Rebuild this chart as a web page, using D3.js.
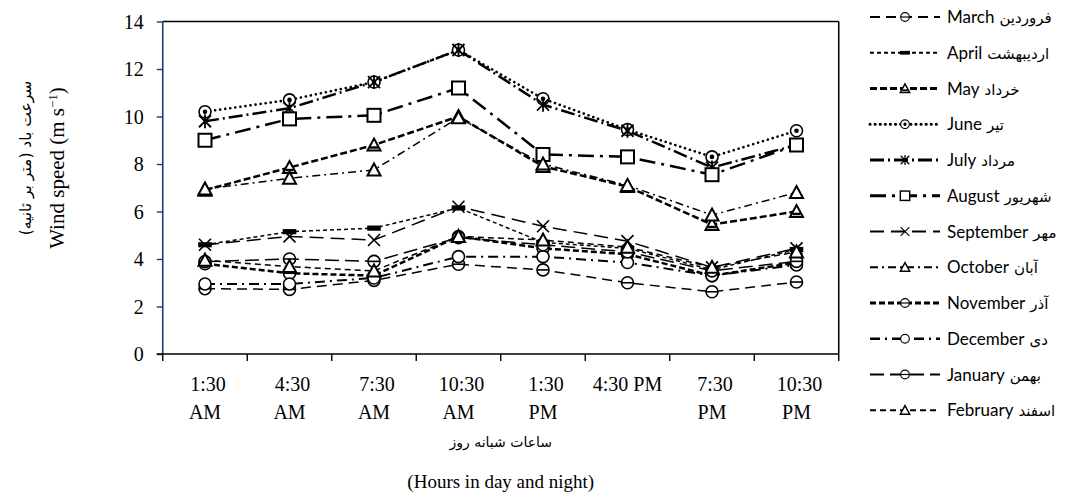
<!DOCTYPE html>
<html><head><meta charset="utf-8">
<script src="https://cdn.jsdelivr.net/npm/d3@7"></script>
<style>body{margin:0;background:#fff} svg{display:block}</style>
</head><body>
<svg id="c" width="1088" height="496"></svg>
<script>
// ---------- data ----------
const hours = ["1:30 AM","4:30 AM","7:30 AM","10:30 AM","1:30 PM","4:30 PM","7:30 PM","10:30 PM"];
const hourLines = [["1:30","AM"],["4:30","AM"],["7:30","AM"],["10:30","AM"],["1:30","PM"],["4:30 PM"],["7:30","PM"],["10:30","PM"]];
const yTicks = [0,2,4,6,8,10,12,14];
const monthNames = ["March","April","May","June","July","August","September","October","November","December","January","February"];
const persianNames = ["فروردین","اردیبهشت","خرداد","تیر","مرداد","شهریور","مهر","آبان","آذر","دی","بهمن","اسفند"];

const march     = [2.75, 2.72, 3.1, 3.78, 3.54, 3.0, 2.62, 3.03];
const april     = [4.6, 5.15, 5.3, 6.15, 4.7, 4.45, 3.55, 4.4];
const may       = [6.9, 7.85, 8.8, 10.0, 7.9, 7.05, 5.45, 6.0];
const june      = [10.2, 10.7, 11.45, 12.8, 10.75, 9.45, 8.3, 9.4];
const july      = [9.8, 10.35, 11.45, 12.8, 10.5, 9.4, 7.85, 8.8];
const august    = [9.0, 9.9, 10.05, 11.2, 8.4, 8.3, 7.55, 8.8];
const september = [4.6, 4.95, 4.8, 6.2, 5.38, 4.75, 3.65, 4.45];
const october   = [6.95, 7.4, 7.75, 9.95, 8.0, 7.1, 5.85, 6.8];
const november  = [3.8, 3.4, 3.3, 4.95, 4.45, 4.2, 3.3, 3.85];
const december  = [2.95, 2.95, 3.2, 4.1, 4.1, 3.85, 3.3, 3.75];
const january   = [3.89, 4.0, 3.9, 4.9, 4.6, 4.3, 3.5, 3.9];
const february  = [3.95, 3.68, 3.5, 4.95, 4.8, 4.5, 3.65, 4.3];
const allSeries = [march, april, may, june, july, august, september, october, november, december, january, february];

// ---------- styles ----------
const styles = [
  {dash:"10,6", w:1.5, m:"circleBar"},
  {dash:"4,3", w:1.5, m:"bar"},
  {dash:"7,3", w:2.5, m:"triFill"},
  {dash:"0.1,5", w:2.6, m:"circleDot", cap:"round"},
  {dash:"14,4,2,4", w:2.5, m:"asterisk"},
  {dash:"16,6,3,6", w:2.5, m:"square"},
  {dash:"14,7", w:1.5, m:"x"},
  {dash:"8,4,2,4", w:1.5, m:"tri"},
  {dash:"6,3", w:2.5, m:"circleBar"},
  {dash:"10,5,2,5", w:2, m:"circle"},
  {dash:"14,6", w:1.5, m:"circleBar"},
  {dash:"6,4", w:1.5, m:"tri"}
];

const svg = d3.select("#c");
const L = 162.75, R = 838.75, T = 21.5, B = 354;
const x = d3.scaleBand().domain(hours).range([L, R]).padding(0);
const y = d3.scaleLinear().domain([0, 14]).range([B, T]);
const cx = h => x(h) + x.bandwidth() / 2;

function marker(g, type, px, py, sc) {
  sc = sc || 1;
  const s = g.append("g").attr("transform", `translate(${px},${py}) scale(${sc})`)
    .attr("fill", "none").attr("stroke", "#000").attr("stroke-width", 1.6);
  const r = 6;
  if (type === "circleBar") {
    s.append("circle").attr("r", r).attr("fill", "#fff");
    s.append("line").attr("x1", -r).attr("x2", r);
  } else if (type === "circle") {
    s.append("circle").attr("r", r).attr("fill", "#fff");
  } else if (type === "circleDot") {
    s.append("circle").attr("r", r).attr("fill", "#fff");
    s.append("circle").attr("r", 1.5).attr("fill", "#000");
  } else if (type === "bar") {
    s.append("rect").attr("x", -6).attr("y", -1.8).attr("width", 12).attr("height", 3.6).attr("fill", "#000");
  } else if (type === "tri" || type === "triFill") {
    s.append("path").attr("d", "M0,-6.5L6.5,5.5L-6.5,5.5Z").attr("fill", "#fff").attr("stroke-width", 2);
    if (type === "triFill") s.append("line").attr("x1", -4).attr("x2", 4).attr("y1", 2.5).attr("y2", 2.5).attr("stroke-width", 2.5);
  } else if (type === "square") {
    s.append("rect").attr("x", -6.5).attr("y", -6.5).attr("width", 13).attr("height", 13).attr("fill", "#fff").attr("stroke-width", 2);
  } else if (type === "x") {
    s.append("path").attr("d", "M-6,-6L6,6M-6,6L6,-6");
  } else if (type === "asterisk") {
    s.append("path").attr("d", "M-6,-6L6,6M-6,6L6,-6M0,-7L0,7").attr("stroke-width", 1.8);
  }
}

// ---------- frame & axes ----------
svg.append("line").attr("x1", L).attr("x2", R).attr("y1", T).attr("y2", T).attr("stroke", "#000").attr("stroke-width", 1.5);
svg.append("line").attr("x1", R).attr("x2", R).attr("y1", T).attr("y2", B).attr("stroke", "#000").attr("stroke-width", 1.5);

const yAxis = svg.append("g").attr("transform", `translate(${L},0)`)
  .call(d3.axisLeft(y).tickValues(yTicks).tickSize(6).tickFormat(d3.format("d")));
yAxis.select(".domain").attr("stroke", "#1f3a78").attr("stroke-width", 1.6).attr("d", `M0,${T}V${B}`);
yAxis.selectAll(".tick line").attr("stroke", "#1f3a78").attr("stroke-width", 1.4);
yAxis.selectAll(".tick text").attr("font-family", "Liberation Serif, Times New Roman, serif")
  .attr("font-size", 20).attr("fill", "#000").attr("x", -19).attr("dy", "0.34em");

const xAxis = svg.append("g").attr("transform", `translate(0,${B})`)
  .call(d3.axisBottom(x).tickSize(0).tickFormat(""));
xAxis.select(".domain").attr("stroke", "#000").attr("stroke-width", 1.6).attr("d", `M${L - 6},0H${R}`);
xAxis.selectAll(".tick").remove();
const edges = hours.map(h => x(h)).concat([R]);
xAxis.selectAll("line.edge").data(edges).enter().append("line").attr("class", "edge")
  .attr("x1", d => d).attr("x2", d => d).attr("y1", 0).attr("y2", 7)
  .attr("stroke", "#000").attr("stroke-width", 1.4);
const xl = xAxis.selectAll("text.lbl").data(hours).enter().append("text").attr("class", "lbl")
  .attr("text-anchor", "middle").attr("font-family", "Liberation Serif, Times New Roman, serif")
  .attr("font-size", 20).attr("fill", "#000");
xl.each(function (h, i) {
  const t = d3.select(this);
  hourLines[i].forEach((ln, j) => {
    t.append("tspan").attr("x", cx(h) + (j === 0 && hourLines[i].length > 1 ? 3 : 0)).attr("y", 37 + j * 28).text(ln);
  });
});

// axis titles
svg.append("text").attr("x", (L + R) / 2).attr("y", 447).attr("text-anchor", "middle")
  .attr("font-family", "DejaVu Sans, sans-serif").attr("font-size", 14).attr("direction", "rtl")
  .text("ساعات شبانه روز");
svg.append("text").attr("x", (L + R) / 2).attr("y", 488).attr("text-anchor", "middle")
  .attr("font-family", "Liberation Serif, Times New Roman, serif").attr("font-size", 19)
  .text("(Hours in day and night)");
const yt = svg.append("text").attr("transform", "translate(64,168) rotate(-90)").attr("text-anchor", "middle")
  .attr("font-family", "Liberation Serif, Times New Roman, serif").attr("font-size", 21);
yt.append("tspan").text("Wind speed (m s");
yt.append("tspan").attr("baseline-shift", "super").attr("font-size", 13).text("−1");
yt.append("tspan").text(")");
svg.append("text").attr("transform", "translate(31,158) rotate(-90)").attr("text-anchor", "middle")
  .attr("font-family", "DejaVu Sans, sans-serif").attr("font-size", 15.5).attr("direction", "rtl")
  .text("سرعت باد (متر بر ثانیه)");

// ---------- lines ----------
const lineGen = d3.line().x((d, i) => cx(hours[i])).y(d => y(d));
const plot = svg.append("g");
allSeries.forEach((vals, k) => {
  const st = styles[k];
  plot.append("path").datum(vals).attr("d", lineGen).attr("fill", "none")
    .attr("stroke", "#000").attr("stroke-width", st.w).attr("stroke-dasharray", st.dash)
    .attr("stroke-linecap", st.cap || "butt");
});
allSeries.forEach((vals, k) => {
  vals.forEach((v, i) => marker(plot, styles[k].m, cx(hours[i]), y(v)));
});

// ---------- legend ----------
const lg = svg.append("g");
monthNames.forEach((name, k) => {
  const st = styles[k];
  const ly = 17 + k * 35.75;
  lg.append("line").attr("x1", 870).attr("x2", 940).attr("y1", ly).attr("y2", ly)
    .attr("stroke", "#000").attr("stroke-width", st.w + 0.5).attr("stroke-dasharray", st.dash)
    .attr("stroke-linecap", st.cap || "butt");
  marker(lg, st.m, 905, ly, 0.72);
  const en = lg.append("text").attr("x", 947).attr("y", ly + 6).attr("font-family", "Lato, sans-serif")
    .attr("font-size", 17).attr("fill", "#000").text(name);
  const w = en.node().getComputedTextLength();
  lg.append("text").attr("x", 947 + w + 5).attr("y", ly + 6).attr("font-family", "DejaVu Sans, sans-serif")
    .attr("font-size", 15).attr("fill", "#000").text(persianNames[k]);
});
</script>
</body></html>
